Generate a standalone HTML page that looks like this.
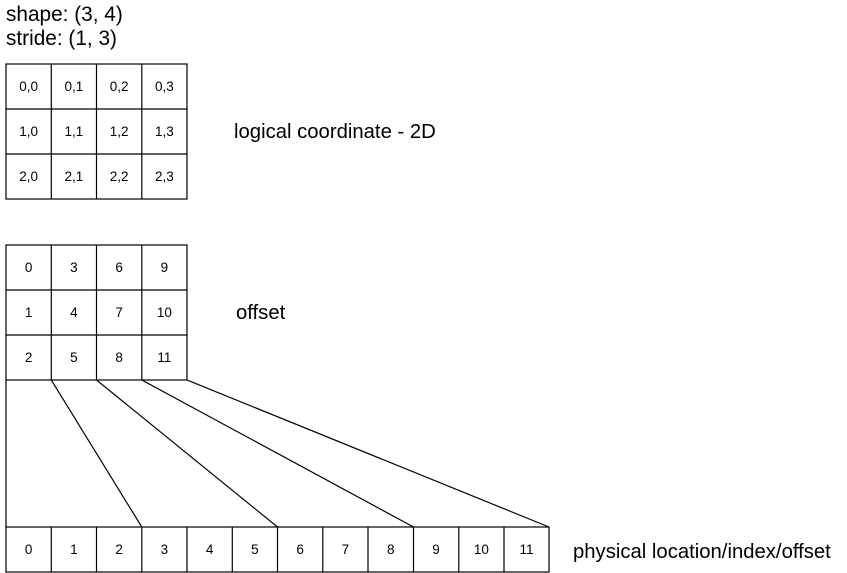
<!DOCTYPE html>
<html><head><meta charset="utf-8"><style>
html,body{margin:0;padding:0;background:#fff;width:847px;height:573px;overflow:hidden}
svg{display:block}
text{font-family:"Liberation Sans",Arial,sans-serif;fill:#000}
</style></head><body>
<svg width="847" height="573" viewBox="0 0 847 573" xmlns="http://www.w3.org/2000/svg">
<text x="6" y="21" font-size="20.8">shape: (3, 4)</text>
<text x="6" y="45" font-size="20.8">stride: (1, 3)</text>
<g stroke="#000" stroke-width="1.2" fill="none">
<rect x="6" y="64" width="181" height="135"/>
<line x1="51.3" y1="64" x2="51.3" y2="199"/><line x1="96.5" y1="64" x2="96.5" y2="199"/><line x1="141.8" y1="64" x2="141.8" y2="199"/>
<line x1="6" y1="109" x2="187" y2="109"/><line x1="6" y1="154" x2="187" y2="154"/>
<rect x="6" y="245" width="181" height="135"/>
<line x1="51.3" y1="245" x2="51.3" y2="380"/><line x1="96.5" y1="245" x2="96.5" y2="380"/><line x1="141.8" y1="245" x2="141.8" y2="380"/>
<line x1="6" y1="290" x2="187" y2="290"/><line x1="6" y1="335" x2="187" y2="335"/>
<line x1="6" y1="380" x2="6" y2="527"/>
<line x1="51.3" y1="380" x2="141.8" y2="527"/>
<line x1="96.5" y1="380" x2="277.5" y2="527"/>
<line x1="141.8" y1="380" x2="413.5" y2="527"/>
<line x1="187" y1="380" x2="549" y2="527"/>
<rect x="6" y="527" width="543" height="45"/>
<line x1="51.3" y1="527" x2="51.3" y2="572"/><line x1="96.5" y1="527" x2="96.5" y2="572"/><line x1="141.8" y1="527" x2="141.8" y2="572"/>
<line x1="187" y1="527" x2="187" y2="572"/><line x1="232.3" y1="527" x2="232.3" y2="572"/><line x1="277.5" y1="527" x2="277.5" y2="572"/>
<line x1="322.8" y1="527" x2="322.8" y2="572"/><line x1="368" y1="527" x2="368" y2="572"/><line x1="413.5" y1="527" x2="413.5" y2="572"/>
<line x1="458.8" y1="527" x2="458.8" y2="572"/><line x1="504" y1="527" x2="504" y2="572"/>
</g>
<g font-size="13.5" text-anchor="middle">
<text x="28.6" y="91">0,0</text><text x="73.9" y="91">0,1</text><text x="119.1" y="91">0,2</text><text x="164.4" y="91">0,3</text>
<text x="28.6" y="136">1,0</text><text x="73.9" y="136">1,1</text><text x="119.1" y="136">1,2</text><text x="164.4" y="136">1,3</text>
<text x="28.6" y="181">2,0</text><text x="73.9" y="181">2,1</text><text x="119.1" y="181">2,2</text><text x="164.4" y="181">2,3</text>
<text x="28.6" y="272">0</text><text x="73.9" y="272">3</text><text x="119.1" y="272">6</text><text x="164.4" y="272">9</text>
<text x="28.6" y="317">1</text><text x="73.9" y="317">4</text><text x="119.1" y="317">7</text><text x="164.4" y="317">10</text>
<text x="28.6" y="362">2</text><text x="73.9" y="362">5</text><text x="119.1" y="362">8</text><text x="164.4" y="362">11</text>
<text x="28.6" y="554">0</text><text x="73.9" y="554">1</text><text x="119.1" y="554">2</text><text x="164.4" y="554">3</text>
<text x="209.6" y="554">4</text><text x="254.9" y="554">5</text><text x="300.1" y="554">6</text><text x="345.4" y="554">7</text>
<text x="390.7" y="554">8</text><text x="436" y="554">9</text><text x="481.4" y="554">10</text><text x="526.5" y="554">11</text>
</g>
<text x="234" y="138" font-size="20.3">logical coordinate - 2D</text>
<text x="236" y="319" font-size="20.3">offset</text>
<text x="573" y="558" font-size="20.3">physical location/index/offset</text>
</svg>
</body></html>
